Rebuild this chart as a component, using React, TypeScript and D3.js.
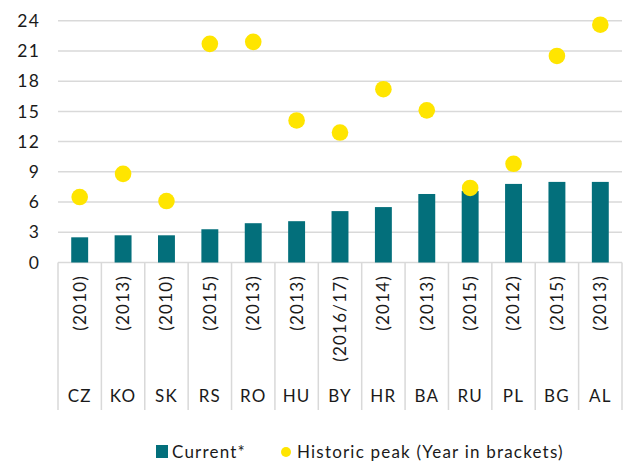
import React from "react";
import * as d3 from "d3";

// Data
const countries = ["CZ", "KO", "SK", "RS", "RO", "HU", "BY", "HR", "BA", "RU", "PL", "BG", "AL"];
const peakYears = ["(2010)", "(2013)", "(2010)", "(2015)", "(2013)", "(2013)", "(2016/17)", "(2014)", "(2013)", "(2015)", "(2012)", "(2015)", "(2013)"];
const current = [2.5, 2.7, 2.7, 3.3, 3.9, 4.1, 5.1, 5.5, 6.8, 7.1, 7.8, 8.0, 8.0];
const historicPeak = [6.5, 8.8, 6.1, 21.7, 21.9, 14.1, 12.9, 17.2, 15.1, 7.4, 9.8, 20.5, 23.6];
const yTicks = [0, 3, 6, 9, 12, 15, 18, 21, 24];

const W = 627;
const H = 464;
const FONT = "Lato, 'Noto Sans', sans-serif";
const TEAL = "#036f7b";
const YELLOW = "#ffe500";
const GRID = "#d9d9d9";
const INK = "#1a1a1a";

const App = () => {
  const left = 58;
  const right = 622;
  const top = 20.7;
  const bottom = 262.5;
  const tableBottom = 410;

  const x = d3.scaleBand<string>().domain(countries).range([left, right]).padding(0);
  const y = d3.scaleLinear().domain([0, 24]).range([bottom, top]);
  const bw = x.bandwidth();
  const barW = bw * 0.39;

  return (
    <svg
      width={W}
      height={H}
      style={{ position: "absolute", left: 0, top: 0, background: "#fff" }}
      fontFamily={FONT}
      letterSpacing={1.2}
    >
      {/* gridlines */}
      {yTicks.map((t) => (
        <line key={t} x1={left} x2={right} y1={y(t)} y2={y(t)} stroke={GRID} strokeWidth={1.5} />
      ))}
      {/* y tick labels */}
      {yTicks.map((t) => (
        <text key={"l" + t} x={40} y={y(t)} dy="0.35em" textAnchor="end" fontSize={17.5} fill={INK}>
          {t}
        </text>
      ))}
      {/* category table lines */}
      {countries.map((c) => (
        <line key={"v" + c} x1={x(c)} x2={x(c)} y1={bottom} y2={tableBottom} stroke={GRID} strokeWidth={1.5} />
      ))}
      <line x1={right} x2={right} y1={bottom} y2={tableBottom} stroke={GRID} strokeWidth={1.5} />
      {/* bars */}
      {countries.map((c, i) => (
        <rect
          key={"b" + c}
          x={(x(c) as number) + (bw - barW) / 2}
          y={y(current[i])}
          width={barW}
          height={y(0) - y(current[i])}
          fill={TEAL}
        />
      ))}
      {/* historic peaks */}
      {countries.map((c, i) => (
        <circle
          key={"p" + c}
          cx={(x(c) as number) + bw / 2}
          cy={y(historicPeak[i])}
          r={8.3}
          fill={YELLOW}
        />
      ))}
      {/* year labels, rotated */}
      {countries.map((c, i) => {
        const cx = (x(c) as number) + bw / 2;
        return (
          <text
            key={"y" + c}
            transform={`translate(${cx},275) rotate(-90)`}
            textAnchor="end"
            dy="0.35em"
            fontSize={17}
            fill={INK}
          >
            {peakYears[i]}
          </text>
        );
      })}
      {/* country labels */}
      {countries.map((c) => (
        <text
          key={"c" + c}
          x={(x(c) as number) + bw / 2}
          y={396}
          dy="0.35em"
          textAnchor="middle"
          fontSize={17}
          fill={INK}
        >
          {c}
        </text>
      ))}
      {/* legend */}
      <rect x={156} y={445} width={12} height={13} fill={TEAL} />
      <text x={172} y={452} dy="0.35em" fontSize={17} fill={INK}>
        Current*
      </text>
      <circle cx={286} cy={452} r={5} fill={YELLOW} />
      <text x={297} y={452} dy="0.35em" fontSize={17} fill={INK}>
        Historic peak (Year in brackets)
      </text>
    </svg>
  );
};

export default App;
